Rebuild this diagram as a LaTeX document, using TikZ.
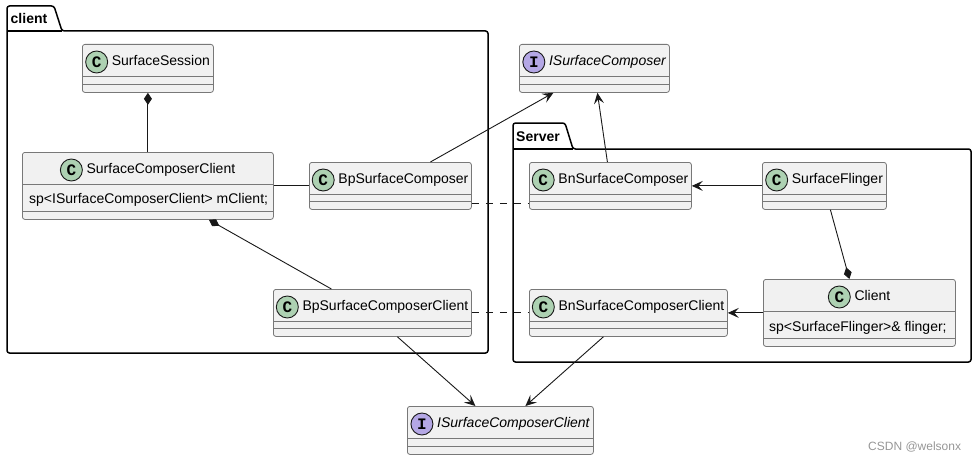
\documentclass[tikz,border=0pt]{standalone}
\usepackage{fontspec}
\setmainfont{Liberation Sans}
\newfontfamily\spotfont{Liberation Mono}
\usepackage{tikz}
\usepackage{xcolor}
\usetikzlibrary{arrows.meta, positioning, calc}
\definecolor{cFill}{RGB}{241,241,241}
\definecolor{cBorder}{RGB}{120,120,120}
\definecolor{cLine}{RGB}{24,24,24}
\definecolor{cSpotC}{RGB}{173,209,178}
\definecolor{cSpotI}{RGB}{180,167,229}
\definecolor{cMark}{RGB}{150,150,150}
\tikzset{
	cls/.style     ={rectangle, draw=cBorder, line width=0.8pt, fill=cFill, rounded corners=2.5pt, anchor=north west, inner sep=0pt},
	hdr/.style     ={anchor=base, inner sep=0pt, font=\fontsize{14}{16}\selectfont},
	attr/.style    ={anchor=base west, inner sep=0pt, font=\fontsize{14}{16}\selectfont},
	spot/.style    ={circle, draw=cLine, line width=0.9pt, minimum size=22pt, inner sep=0pt, font=\spotfont\bfseries\fontsize{16}{16}\selectfont},
	sepline/.style ={draw=cBorder, line width=0.8pt},
	% package styles
	pkg/.style     ={draw=black, line width=1.5pt, rounded corners=2.5pt},
	pkgname/.style ={anchor=base west, inner sep=0pt, font=\bfseries\fontsize{14}{16}\selectfont},
	% relation styles
	rel/.style     ={draw=cLine, line width=0.9pt},
	navarrow/.style={rel, -{Stealth[length=11pt, width=10pt, inset=4.5pt]}},
	comp/.style    ={rel, {Diamond[length=12pt, width=8pt]}-},
	dashlink/.style={rel, dash pattern=on 7pt off 7pt},
}

\begin{document}
\begin{tikzpicture}[x=1pt, y=-1pt]
	\useasboundingbox (0,0) rectangle (977,460);
	% packages
	\draw[pkg] (7,353) -- (7,6) -- (54,6) -- (62,31) -- (488,31) -- (488,353) -- cycle;
	\draw[pkg] (7,31) -- (62,31);
	\node[pkgname] (clientPkg) at (10.5,24) {client};
	\draw[pkg] (513,362) -- (513,123) -- (565,123) -- (573,149) -- (971,149) -- (971,362) -- cycle;
	\draw[pkg] (513,149) -- (573,149);
	\node[pkgname] (serverPkg) at (516,141.5) {Server};
	% classes
	\foreach \id/\x/\y/\w/\h/\name/\letter/\col in {
		sSession/82/44/131/48/SurfaceSession/C/cSpotC,
		scClient/22/152/251/67/SurfaceComposerClient/C/cSpotC,
		bpComposer/309/162/162/47/BpSurfaceComposer/C/cSpotC,
		bpClient/273/289/198/47/BpSurfaceComposerClient/C/cSpotC,
		iComposer/519/44/150/48/{\itshape ISurfaceComposer}/I/cSpotI,
		bnComposer/529/162/162/47/BnSurfaceComposer/C/cSpotC,
		sFlinger/762/162/124/47/SurfaceFlinger/C/cSpotC,
		client/763/279/192/67/Client/C/cSpotC,
		bnClient/529/289/198/47/BnSurfaceComposerClient/C/cSpotC,
		iClient/407/406/186/48/{\itshape ISurfaceComposerClient}/I/cSpotI} {
		\node[cls, minimum width=\w, minimum height=\h] (\id) at (\x,\y) {};
		\node[hdr] (\id-t) at ([xshift=13pt, yshift=-21.5pt]\id.north) {\name};
		\node[spot, fill=\col] (\id-s) at ([xshift=-15pt, yshift=3.5pt]\id-t.base west) {\letter};
		\draw[sepline] ([yshift=-32pt]\id.north west) -- ([yshift=-32pt]\id.north east);
		\draw[sepline] ([yshift=8pt]\id.south west) -- ([yshift=8pt]\id.south east);
	}
	\node[attr] (scClient-a) at ([xshift=7pt, yshift=-51pt]scClient.north west) {sp<ISurfaceComposerClient> mClient;};
	\node[attr] (client-a) at ([xshift=6pt, yshift=-52pt]client.north west) {sp<SurfaceFlinger>\& flinger;};
	% relations
	\draw[comp] (sSession.south) -- (scClient.north);
	\draw[rel] (scClient.east) -- (bpComposer.west);
	\draw[comp] ([xshift=61pt]scClient.south) -- ([xshift=-41pt]bpClient.north);
	\draw[navarrow] ([xshift=40pt]bpComposer.north) -- ([xshift=-41pt]iComposer.south);
	\draw[navarrow] ([xshift=-3pt]bnComposer.north) -- ([xshift=3pt]iComposer.south);
	\draw[navarrow] (sFlinger.west) -- (bnComposer.east);
	\draw[comp] ([xshift=-10pt]client.north) -- ([xshift=6pt]sFlinger.south);
	\draw[navarrow] (client.west) -- (bnClient.east);
	\draw[navarrow] ([xshift=25pt]bpClient.south) -- ([xshift=-25pt]iClient.north);
	\draw[navarrow] ([xshift=-25pt]bnClient.south) -- ([xshift=25pt]iClient.north);
	\draw[dashlink] ([yshift=6pt]bpComposer.south east) -- ([yshift=6pt]bnComposer.south west);
	\draw[dashlink] (bpClient.east) -- (bnClient.west);
	\node[anchor=base west, inner sep=0pt, text=cMark, font=\fontsize{12}{14}\selectfont] (mark) at (868,450) {CSDN @welsonx};
\end{tikzpicture}
\end{document}
